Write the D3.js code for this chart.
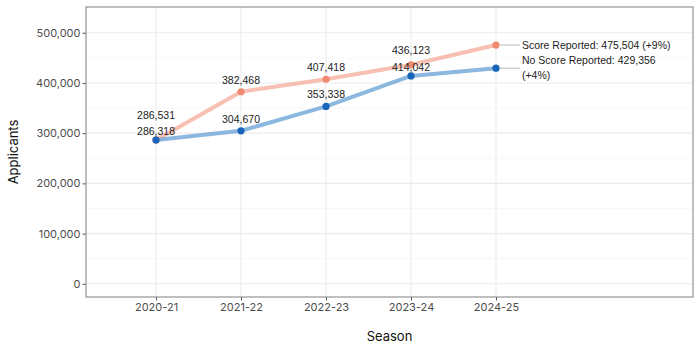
<!DOCTYPE html>
<html><head><meta charset="utf-8">
<script src="https://cdn.jsdelivr.net/npm/d3@7"></script>
<style>body{margin:0;background:#fff}svg{display:block}</style>
</head><body>
<svg id="c" width="700" height="350"></svg>
<script>
const seasons = ["2020-21","2021-22","2022-23","2023-24","2024-25"];
const scoreReported = [286531, 382468, 407418, 436123, 475504];
const noScoreReported = [286318, 304670, 353338, 414042, 429356];
const scoreLabelLift = [25, 11, 12, 14];
const noScoreLabelLift = [9, 11, 12, 9];
const yTicks = [0, 100000, 200000, 300000, 400000, 500000];
const yMinor = [50000, 150000, 250000, 350000, 450000];
const endLabels = [["Score Reported: 475,504 (+9%)"], ["No Score Reported: 429,356", "(+4%)"]];

const svg = d3.select("#c");
const L = 86, R = 693, T = 7, B = 297;
const x = d3.scaleLinear().domain([0.176, 7.318]).range([L, R]);
const y = d3.scaleLinear().domain([-26250, 551250]).range([B, T]);
const fmt = d3.format(",");
const tickFont = "Inter, 'Noto Sans', sans-serif";
const lblFont = "'Liberation Sans', Arial, sans-serif";

// gridlines
const g = svg.append("g");
g.selectAll(".mn").data(yMinor).join("line")
  .attr("x1", L).attr("x2", R).attr("y1", d => y(d)).attr("y2", d => y(d))
  .attr("stroke", "#f2f2f2").attr("stroke-width", 0.6);
g.selectAll(".mj").data(yTicks).join("line")
  .attr("x1", L).attr("x2", R).attr("y1", d => y(d)).attr("y2", d => y(d))
  .attr("stroke", "#ebebeb").attr("stroke-width", 1.1);
g.selectAll(".vx").data(seasons).join("line")
  .attr("x1", (d, i) => x(i + 1)).attr("x2", (d, i) => x(i + 1)).attr("y1", T).attr("y2", B)
  .attr("stroke", "#ebebeb").attr("stroke-width", 1.1);

// axes
const yAxis = d3.axisLeft(y).tickValues(yTicks).tickFormat(fmt).tickSize(3.5).tickPadding(2);
const ya = svg.append("g").attr("transform", `translate(${L},0)`).call(yAxis);
const xAxis = d3.axisBottom(x).tickValues(seasons.map((d, i) => i + 1)).tickFormat(d => seasons[d - 1]).tickSize(3.5).tickPadding(3);
const xa = svg.append("g").attr("transform", `translate(0,${B})`).call(xAxis);
[ya, xa].forEach(a => {
  a.select(".domain").remove();
  a.selectAll("line").attr("stroke", "#555");
  a.selectAll("text").attr("fill", "#4d4d4d").style("font-family", tickFont).style("font-size", "11px");
});

// panel border
svg.append("rect").attr("x", L).attr("y", T).attr("width", R - L).attr("height", B - T)
  .attr("fill", "none").attr("stroke", "#8a8a8a").attr("stroke-width", 1.1);

const series = [
  {vals: scoreReported, line: "#f4ab98", pt: "#ef8a70", lift: scoreLabelLift, end: endLabels[0]},
  {vals: noScoreReported, line: "#65a0d6", pt: "#1766bb", lift: noScoreLabelLift, end: endLabels[1]}
];
const line = d3.line().x((d, i) => x(i + 1)).y(d => y(d));
series.forEach(s => {
  svg.append("path").attr("d", line(s.vals)).attr("fill", "none")
    .attr("stroke", s.line).attr("stroke-width", 4).attr("stroke-opacity", 0.75)
    .attr("stroke-linejoin", "round").attr("stroke-linecap", "round");
});
series.forEach(s => {
  svg.selectAll(null).data(s.vals).join("circle")
    .attr("cx", (d, i) => x(i + 1)).attr("cy", d => y(d)).attr("r", 3.6).attr("fill", s.pt);
});
// end connectors + labels
series.forEach(s => {
  const n = s.vals.length, px = x(n), py = y(s.vals[n - 1]);
  svg.append("line").attr("x1", px + 4).attr("x2", px + 24).attr("y1", py).attr("y2", py)
    .attr("stroke", "#aaaaaa").attr("stroke-width", 0.8);
  const t = svg.append("text").attr("x", px + 26).attr("y", py)
    .style("font-family", lblFont).style("font-size", "10.5px").attr("fill", "#222");
  const off = -(s.end.length - 1) * 7.5;
  s.end.forEach((ln, k) => t.append("tspan").attr("x", px + 26).attr("y", py + off + k * 15).attr("dy", "0.35em").text(ln));
});
// data labels
series.forEach(s => {
  svg.selectAll(null).data(s.vals.slice(0, 4)).join("text")
    .attr("x", (d, i) => x(i + 1)).attr("y", (d, i) => y(d) - s.lift[i]).attr("dy", "0.35em")
    .attr("text-anchor", "middle").style("font-family", lblFont).style("font-size", "10.5px")
    .attr("fill", "#222").text(d => fmt(d));
});

// axis titles
svg.append("text").attr("transform", `translate(13,${(T + B) / 2}) rotate(-90)`).attr("text-anchor", "middle")
  .attr("dy", "0.35em").style("font-family", tickFont).style("font-size", "13px").attr("fill", "#111").text("Applicants");
svg.append("text").attr("x", (L + R) / 2).attr("y", 336).attr("text-anchor", "middle").attr("dy", "0.35em")
  .style("font-family", tickFont).style("font-size", "13px").attr("fill", "#111").text("Season");
</script>
</body></html>
